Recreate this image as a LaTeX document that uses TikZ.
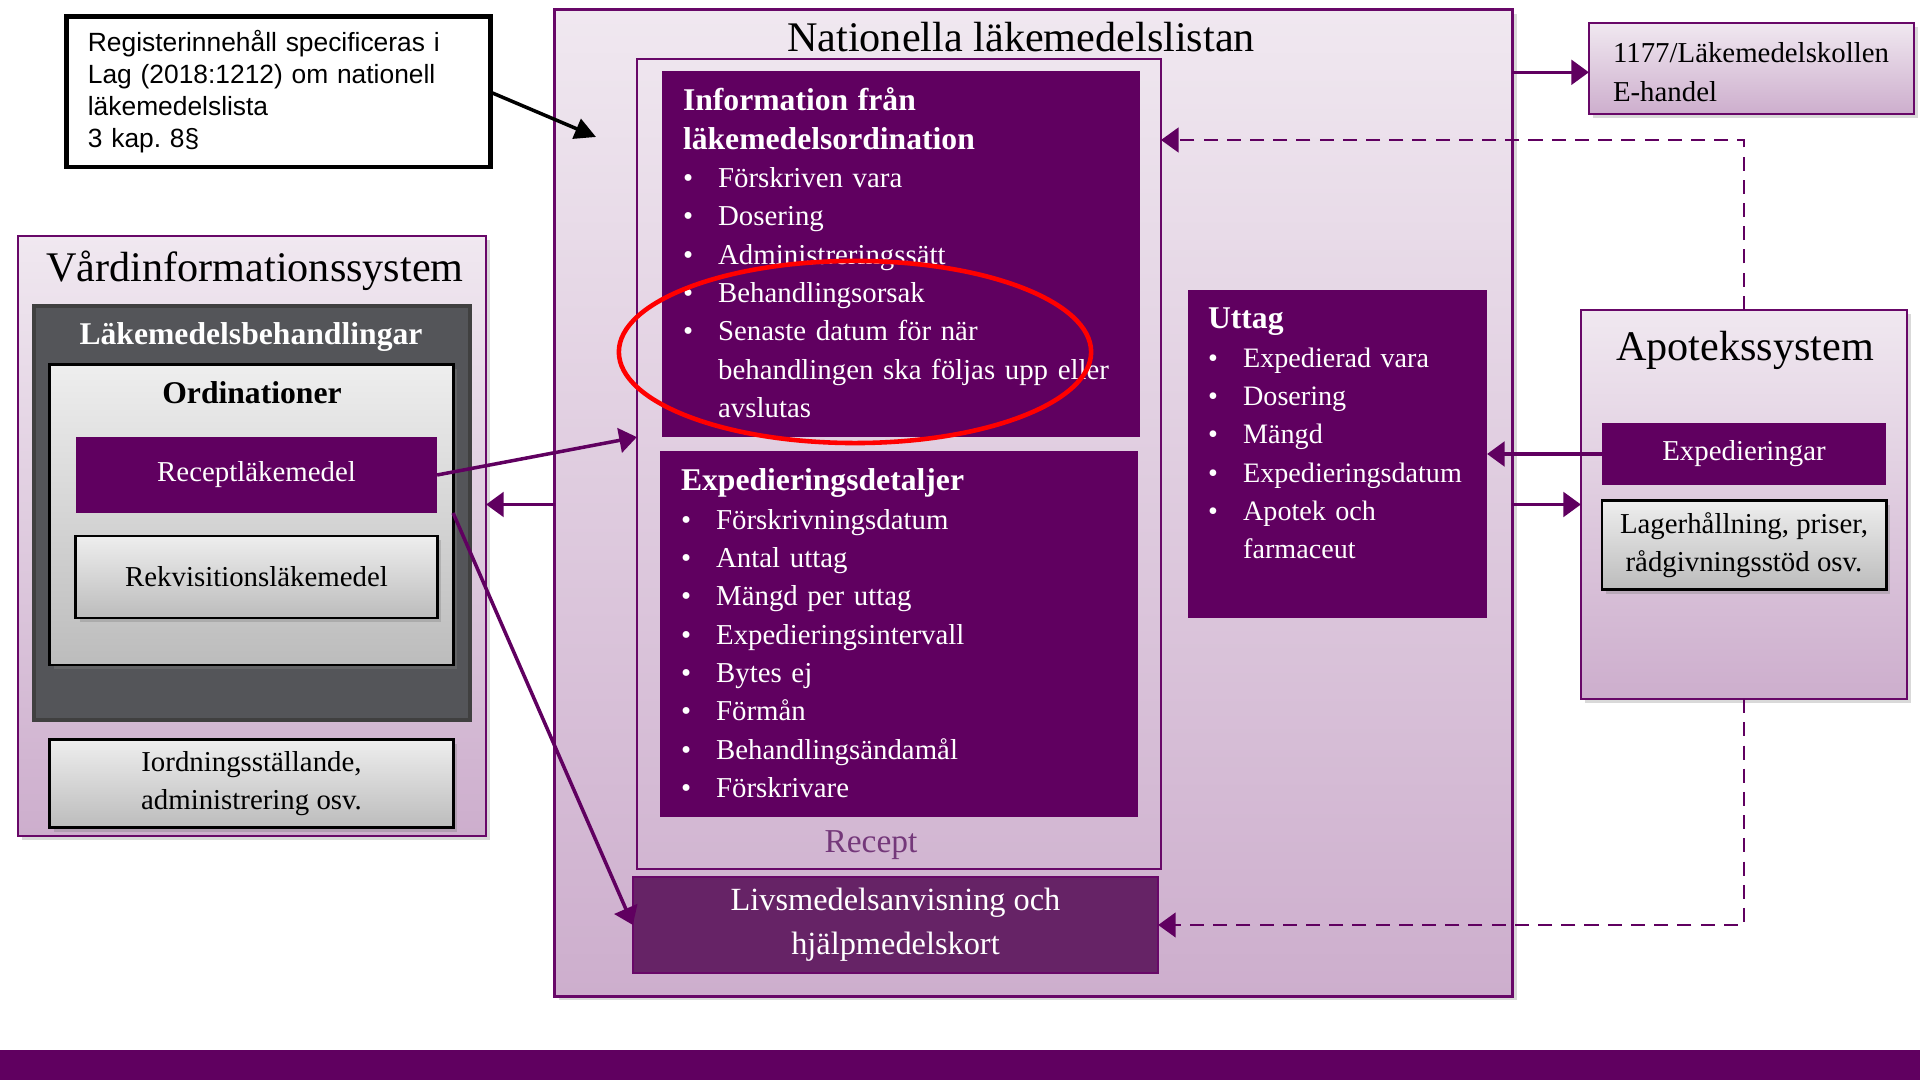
\documentclass[tikz,border=0pt]{standalone}
\usepackage{fontspec}
\setmainfont{Liberation Serif}
\newfontfamily\notefont{Liberation Sans}
\usepackage{tikz}
\usetikzlibrary{positioning}
\usetikzlibrary{shapes}
\usetikzlibrary{shadows}
\usetikzlibrary{arrows.meta}
\usepackage{xcolor}

\definecolor{lila}{HTML}{600060}
\definecolor{lilakant}{HTML}{680868}
\definecolor{lilatopp}{HTML}{F0E8F0}
\definecolor{lilabotten}{HTML}{CDAECD}
\definecolor{livlila}{HTML}{662366}
\definecolor{morkgra}{HTML}{545559}
\definecolor{gratopp}{HTML}{EEEEEE}
\definecolor{grabotten}{HTML}{BCBCBC}
\definecolor{receptlila}{HTML}{74387A}

\newcommand{\pkt}[1]{\par\noindent\makebox[10pt][l]{\textbullet}\begin{tabular}[t]{@{}l@{}}#1\end{tabular}}

\begin{document}
\begin{tikzpicture}[x=0.01cm, y=-0.01cm, outer sep=0pt,
  every node/.style={font=\fontsize{8.2}{10.9}\selectfont},
  sys/.style 2 args={draw=lilakant, line width=0.7pt, top color=lilatopp, bottom color=lilabotten, drop shadow={opacity=0.3, shadow xshift=1.2pt, shadow yshift=-1.2pt}, minimum width=#1, minimum height=#2},
  mork/.style 2 args={fill=lila, text=white, minimum width=#1, minimum height=#2},
  gra/.style 2 args={draw=black, line width=0.8pt, top color=gratopp, bottom color=grabotten, drop shadow={opacity=0.35, shadow xshift=1.2pt, shadow yshift=-1.2pt}, minimum width=#1, minimum height=#2, align=center},
  rubrik/.style={font=\fontsize{12}{14}\selectfont},
  fet/.style={font=\bfseries\fontsize{9}{11}\selectfont},
  lista/.style={anchor=north west, text=white, align=left, inner sep=0pt},
  pil/.style={-{Triangle[width=7pt, length=5pt]}, lila, line width=1pt},
  streck/.style={-{Triangle[width=7pt, length=5pt]}, lila, line width=0.8pt, dash pattern=on 4pt off 2.6pt}]
  \useasboundingbox (0, 0) rectangle (1920, 1080);
  \fill[lila] (0, 1050) rectangle (1920, 1080);

  \node[draw, line width=1.4pt, minimum width=4.23cm, minimum height=1.5cm, text width=3.81cm, inner xsep=0.21cm, align=left, font=\notefont\fontsize{7.5}{9.1}\selectfont] (reg) at (278.5, 92) {Registerinnehåll specificeras i\\Lag (2018:1212) om nationell\\läkemedelslista\\3 kap.\ 8§};

  \node[sys={9.57cm}{9.86cm}] (nll) at (1033.5, 503) {};
  \node[rubrik] (nllt) at (1021, 37) {Nationella läkemedelslistan};
  \node[draw=lilakant, line width=0.7pt, minimum width=5.24cm, minimum height=8.1cm] (recept) at (899, 464) {};
  \node[mork={4.78cm}{3.66cm}] (info) at (901, 254) {};
  \node[lista, text width=4.4cm] (infot) at (683, 88) {\textbf{\fontsize{9}{10.9}\selectfont Information från}\\\textbf{\fontsize{9}{10.9}\selectfont läkemedelsordination}
    \pkt{Förskriven vara}
    \pkt{Dosering}
    \pkt{Administreringssätt}
    \pkt{Behandlingsorsak}
    \pkt{Senaste datum för när\\behandlingen ska följas upp eller\\avslutas}};
  \node[mork={4.78cm}{3.66cm}] (exp) at (899, 634) {};
  \node[lista, text width=4.4cm] (expt) at (681, 469) {\textbf{\fontsize{9}{10.9}\selectfont Expedieringsdetaljer}
    \pkt{Förskrivningsdatum}
    \pkt{Antal uttag}
    \pkt{Mängd per uttag}
    \pkt{Expedieringsintervall}
    \pkt{Bytes ej}
    \pkt{Förmån}
    \pkt{Behandlingsändamål}
    \pkt{Förskrivare}};
  \node[font=\fontsize{9.5}{11}\selectfont, text=receptlila] (receptt) at (871, 845) {Recept};
  \node[fill=livlila, draw=lilakant, line width=0.5pt, text=white, minimum width=5.25cm, minimum height=0.94cm, align=center, font=\fontsize{9.2}{12.5}\selectfont] (liv) at (895.5, 925) {Livsmedelsanvisning och\\hjälpmedelskort};
  \node[mork={2.99cm}{3.28cm}] (uttag) at (1337.5, 454) {};
  \node[lista, text width=2.8cm, font=\fontsize{8}{10.9}\selectfont] (uttagt) at (1208, 308) {\textbf{\fontsize{9}{10.9}\selectfont Uttag}
    \pkt{Expedierad vara}
    \pkt{Dosering}
    \pkt{Mängd}
    \pkt{Expedieringsdatum}
    \pkt{Apotek och\\farmaceut}};
  \node[draw=red, line width=1.3pt, ellipse, minimum width=4.72cm, minimum height=1.82cm] (ring) at (855, 352) {};

  \node[sys={4.68cm}{6cm}] (vard) at (252, 536) {};
  \node[rubrik] (vardt) at (255, 271) {Vårdinformationssystem};
  \node[fill=morkgra, draw=black!75, line width=1.2pt, minimum width=4.36cm, minimum height=4.14cm] (lmb) at (252, 513) {};
  \node[fet, text=white] (lmbt) at (251, 337) {Läkemedelsbehandlingar};
  \node[gra={4.03cm}{3cm}] (ord) at (251.5, 515) {};
  \node[fet] (ordt) at (252, 393) {Ordinationer};
  \node[mork={3.61cm}{0.76cm}] (rlk) at (256.5, 475) {Receptläkemedel};
  \node[gra={3.61cm}{0.82cm}] (rkv) at (256.5, 577) {Rekvisitionsläkemedel};
  \node[gra={4.03cm}{0.85cm}] (iord) at (251.5, 783.5) {Iordningsställande,\\administrering osv.};

  \node[sys={3.25cm}{0.91cm}] (kol) at (1751.5, 68.5) {};
  \node[anchor=north west, align=left, inner sep=0pt] (kolt) at (1613, 43) {1177/Läkemedelskollen\\E-handel};
  \node[sys={3.26cm}{3.89cm}] (apo) at (1744, 504.5) {};
  \node[rubrik] (apot) at (1745, 350) {Apotekssystem};
  \node[mork={2.84cm}{0.62cm}] (expg) at (1744, 454) {Expedieringar};
  \node[gra={2.84cm}{0.84cm}] (lag) at (1744, 545) {Lagerhållning, priser,\\rådgivningsstöd osv.};

  \coordinate (mal) at (596, 137);
  \coordinate (rin) at (1161, 140);
  \draw[-{Triangle[width=6pt, length=6pt]}, line width=1pt] (reg.east) -- (mal);
  \draw[pil] (nll.east |- kolt.west) -- (kol.west |- kolt.west);
  \draw[streck] (apo.north) |- (rin);
  \draw[streck] (apo.south) |- (liv.east);
  \draw[pil] (expg.west) -- (uttag.east |- expg.west);
  \draw[pil] (nll.east |- apo.west) -- (apo.west);
  \draw[pil] (nll.west |- apo.west) -- (vard.east |- apo.west);
  \draw[pil] (rlk.east) -- (recept.west |- info.south);
  \draw[pil] (ord.east |- rlk.south) -- (liv.west);
\end{tikzpicture}
\end{document}
